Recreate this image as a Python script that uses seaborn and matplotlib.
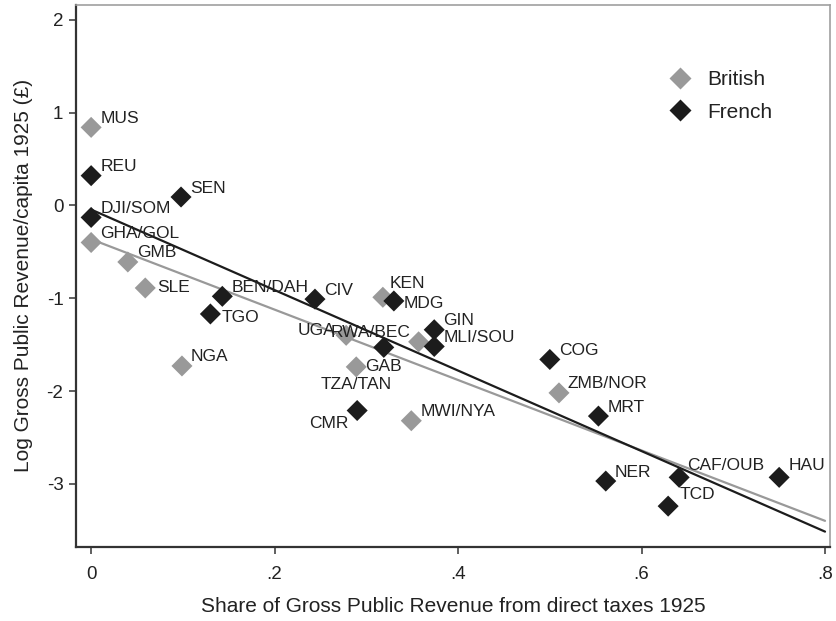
import numpy as np
import pandas as pd
import matplotlib
matplotlib.use('Agg')
import matplotlib.pyplot as plt
import seaborn as sns

sns.set_style('white')
plt.rcParams['font.family'] = ['Liberation Sans', 'DejaVu Sans']

# colonies and values
BRITISH = ['MUS', 'GHA/GOL', 'GMB', 'SLE', 'NGA', 'UGA', 'KEN', 'RWA/BEC',
           'TZA/TAN', 'MWI/NYA', 'ZMB/NOR']
BRITISH_TAX = [0.0, 0.0, 0.040, 0.059, 0.099, 0.278, 0.318, 0.357,
               0.289, 0.349, 0.510]
BRITISH_REV = [0.84, -0.40, -0.61, -0.89, -1.73, -1.40, -0.99, -1.47,
               -1.74, -2.32, -2.02]

FRENCH = ['REU', 'DJI/SOM', 'SEN', 'BEN/DAH', 'TGO', 'CIV', 'MDG', 'GIN',
          'MLI/SOU', 'GAB', 'CMR', 'COG', 'MRT', 'NER', 'CAF/OUB', 'TCD', 'HAU']
FRENCH_TAX = [0.0, 0.0, 0.098, 0.143, 0.130, 0.244, 0.330, 0.374,
              0.374, 0.319, 0.290, 0.500, 0.553, 0.561, 0.641, 0.629, 0.750]
FRENCH_REV = [0.32, -0.13, 0.09, -0.98, -1.17, -1.01, -1.03, -1.34,
              -1.52, -1.53, -2.21, -1.66, -2.27, -2.97, -2.93, -3.24, -2.93]

XTICKS = [0, 0.2, 0.4, 0.6, 0.8]
XTICKLABELS = ['0', '.2', '.4', '.6', '.8']
YTICKS = [-3, -2, -1, 0, 1, 2]

COLORS = {'British': '#999999', 'French': '#1c1c1c'}

# label offsets in pixels (dx, dy, ha); default is up-right
LABEL_POS = {
    'UGA': (-11, 5, 'right'), 'RWA/BEC': (-8, 9, 'right'),
    'GAB': (0, -19, 'center'), 'TZA/TAN': (0, -18, 'center'),
    'CMR': (-9, -13, 'right'), 'MDG': (10, -3, 'left'),
    'KEN': (7, 14, 'left'), 'TGO': (11, -4, 'left'), 'SLE': (12, 0, 'left'),
    'TCD': (11, 12, 'left'), 'HAU': (9, 12, 'left'), 'CAF/OUB': (8, 12, 'left'),
}


def load_data():
    brit = pd.DataFrame({'code': BRITISH, 'tax': BRITISH_TAX, 'rev': BRITISH_REV})
    brit['Colonizer'] = 'British'
    fren = pd.DataFrame({'code': FRENCH, 'tax': FRENCH_TAX, 'rev': FRENCH_REV})
    fren['Colonizer'] = 'French'
    return pd.concat([brit, fren], ignore_index=True)


def main():
    df = load_data()
    fig = plt.figure(figsize=(8.36, 6.21), dpi=100)
    ax = fig.add_axes([0.0909, 0.1192, 0.902, 0.873])

    # fitted lines per colonizer
    for name in ['British', 'French']:
        sub = df[df.Colonizer == name]
        b, a = np.polyfit(sub.tax, sub.rev, 1)
        xs = np.array([XTICKS[0], XTICKS[-1]])
        sns.lineplot(x=xs, y=a + b * xs, ax=ax, color=COLORS[name], lw=1.6,
                     zorder=2)

    sns.scatterplot(data=df, x='tax', y='rev', hue='Colonizer', palette=COLORS,
                    marker='D', s=115, edgecolor='none', ax=ax, zorder=3)

    px = 0.72
    for _, row in df.iterrows():
        dx, dy, ha = LABEL_POS.get(row.code, (9, 9, 'left'))
        ax.annotate(row.code, (row.tax, row.rev), xytext=(dx * px, dy * px),
                    textcoords='offset points', ha=ha, va='center',
                    fontsize=12.5, color='#222222', zorder=4)

    ax.set_xlim(-0.0165, 0.8055)
    ax.set_ylim(-3.68, 2.16)
    ax.set_xticks(XTICKS)
    ax.set_xticklabels(XTICKLABELS)
    ax.set_yticks(YTICKS)
    ax.set_yticklabels([str(t) for t in YTICKS])
    ax.tick_params(axis='both', direction='out', length=5, width=1.2,
                   color='#444444', labelsize=13.5, labelcolor='#222222',
                   left=True, bottom=True, pad=4)
    ax.tick_params(axis='x', pad=9)

    ax.set_xlabel('Share of Gross Public Revenue from direct taxes 1925',
                  fontsize=15, color='#222222', labelpad=10)
    ax.set_ylabel('Log Gross Public Revenue/capita 1925 (£)',
                  fontsize=15, color='#222222', labelpad=10)

    for side in ['left', 'bottom']:
        ax.spines[side].set_color('#333333')
        ax.spines[side].set_linewidth(1.6)
    for side in ['top', 'right']:
        ax.spines[side].set_color('#a0a0a0')
        ax.spines[side].set_linewidth(1.2)

    leg = ax.legend(loc='upper left', bbox_to_anchor=(0.748, 0.914),
                    frameon=False, fontsize=15, handletextpad=0.35,
                    labelspacing=0.65, markerscale=1.0)
    for text in leg.get_texts():
        text.set_color('#222222')

    fig.savefig('out.png', dpi=100)


if __name__ == '__main__':
    main()
